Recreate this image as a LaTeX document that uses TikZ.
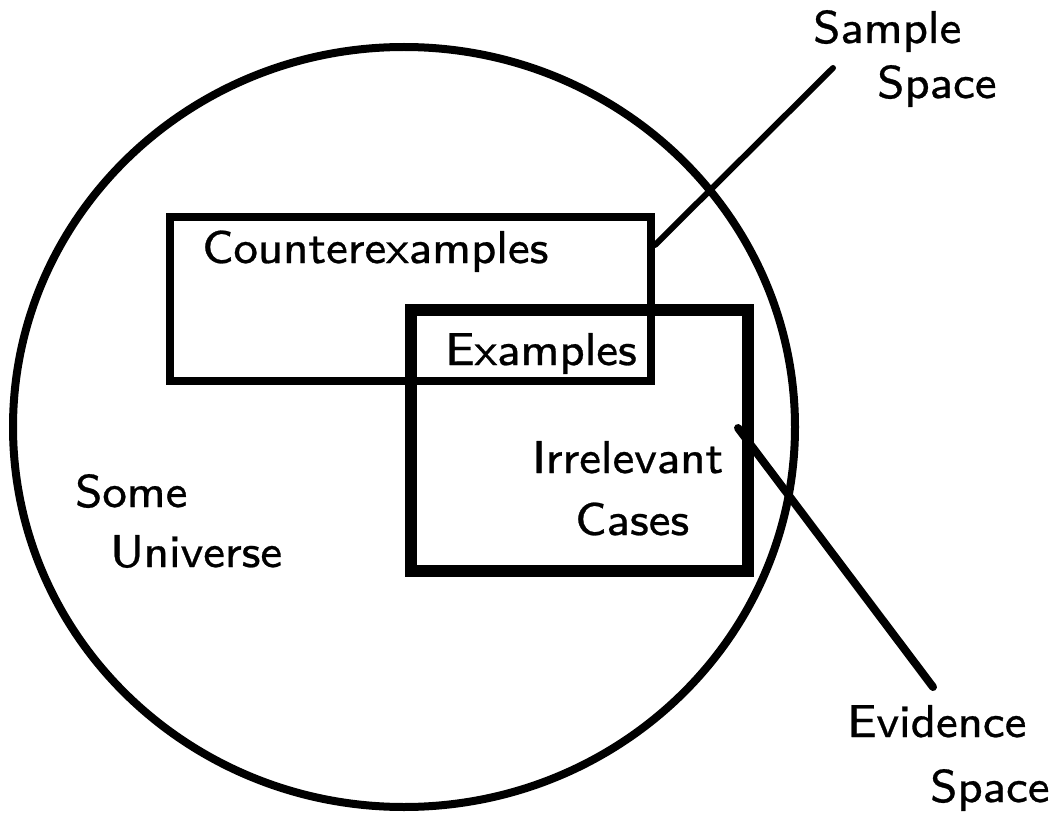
\documentclass[tikz,border=0pt]{standalone}
\usepackage{fontspec}
\setsansfont{lmsans8-regular.otf}[FakeBold=0.6]
\usetikzlibrary{shapes.geometric}
\begin{document}
\begin{tikzpicture}[x=0.75pt,y=-0.75pt,
  lbl/.style={anchor=base west,inner sep=0pt,font=\sffamily\fontsize{34.5}{40}\selectfont},
  universe/.style={draw,ellipse,line width=6pt,inner sep=0pt,minimum width=586.5pt,minimum height=570pt},
  countbox/.style={draw,rectangle,line width=6.5pt,inner sep=0pt,minimum width=360.75pt,minimum height=123pt},
  evbox/.style={draw,rectangle,line width=9pt,inner sep=0pt,minimum width=252.75pt,minimum height=195.75pt},
  leader/.style={line width=4.5pt,line cap=round},
  leaderb/.style={line width=6pt,line cap=round}]
\useasboundingbox (0,0) rectangle (1050,813);
\node[universe] (u) at (404,427) {};
\node[countbox] (c) at (410.5,299) {};
\node[evbox] (e) at (579.5,440.5) {};
\node[lbl] (tc) at (202,263) {Counterexamples};
\node[lbl] (tx) at (445,365) {Examples};
\node[lbl] (ti) at (532,473) {Irrelevant};
\node[lbl] (tca) at (575,535) {Cases};
\node[lbl] (ts) at (75,507) {Some};
\node[lbl] (tu) at (110,567) {Universe};
\node[lbl] (tsa) at (813,43) {Sample};
\node[lbl] (tsp) at (877,98) {Space};
\node[lbl] (tev) at (847,737) {Evidence};
\node[lbl] (tesp) at (930,802) {Space};
\coordinate (sa) at (655,245);
\coordinate (sb) at (833,68);
\coordinate (ea) at (738,428);
\coordinate (eb) at (933,687);
\draw[leader] (sa) -- (sb);
\draw[leaderb] (ea) -- (eb);
\end{tikzpicture}
\end{document}
